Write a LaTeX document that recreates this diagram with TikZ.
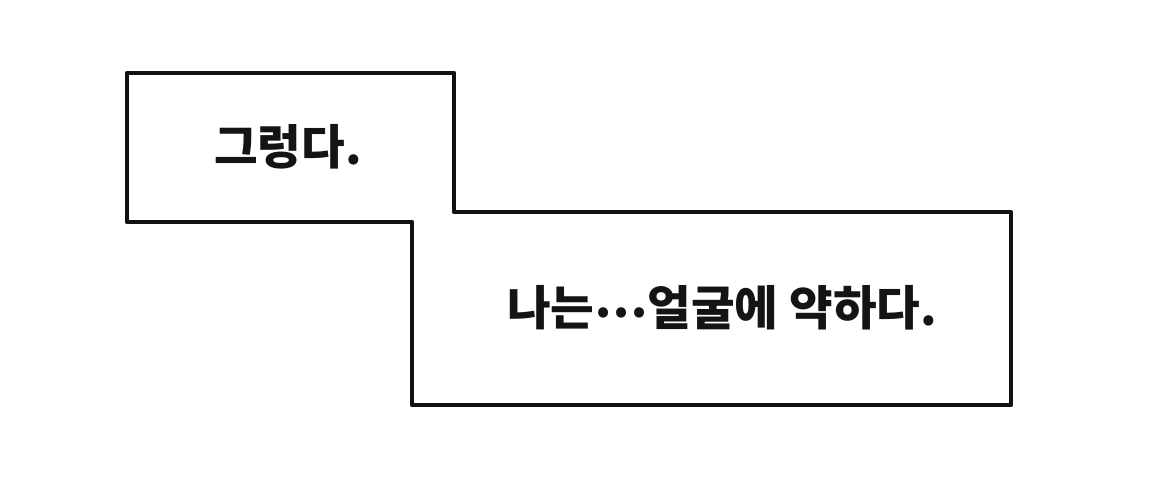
\documentclass[tikz,border=0pt]{standalone}
\usepackage{fontspec}
\usepackage{tikz}
\usepackage{xcolor}
\newfontfamily\krfont{Noto Sans CJK KR}
\definecolor{boxline}{RGB}{17,17,17}
\definecolor{boxtext}{RGB}{20,20,20}

\begin{document}
\begin{tikzpicture}[x=0.02cm,y=-0.02cm]
                    \useasboundingbox (0,0) rectangle (1170,501);
                    \fill[white] (0,0) rectangle (1170,501);

                    % Caption boxes (one joined outline)
                    \coordinate (topleft) at (127,73);
                    \coordinate (botright) at (1011,405);
                    \draw[boxline, line width=2.5pt, line join=round, fill=white]
                        (topleft) -- (454,73) -- (454,212) -- (1011,212)
                        -- (botright) -- (412,405) -- (412,222) -- (127,222) -- cycle;

                    % Labels
                    \node[boxtext] (first) at (288,147) {\krfont\bfseries\fontsize{27}{32}\selectfont 그렁다.};
                    \node[boxtext] (second) at (722,308) {\krfont\bfseries\fontsize{27}{32}\selectfont 나는\raisebox{0.18em}{⋯}얼굴에 약하다.};
                \end{tikzpicture}
\end{document}
